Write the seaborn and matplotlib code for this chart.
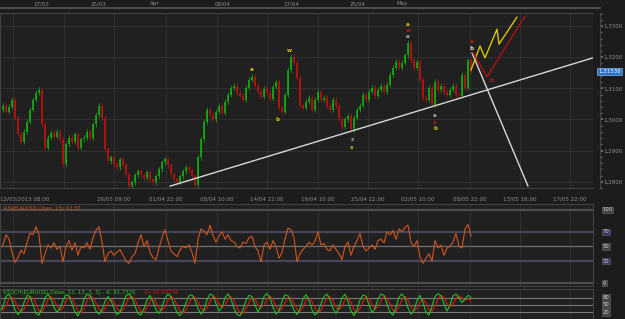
import numpy as np
import matplotlib
matplotlib.use("Agg")
import matplotlib.pyplot as plt
import seaborn as sns
from matplotlib.transforms import blended_transform_factory as btf

# ---------------- data ----------------
close = [1.3032,1.3044,1.3025,1.3041,1.3064,1.3006,1.2952,1.2929,1.2961,1.2993,
         1.3032,1.3064,1.3086,1.3096,1.2984,1.2910,1.2942,1.2958,1.2945,1.2961,
         1.2936,1.2856,1.2920,1.2942,1.2929,1.2952,1.2910,1.2936,1.2942,1.2961,
         1.2942,1.2984,1.3016,1.3044,1.3006,1.2904,1.2866,1.2878,1.2856,1.2846,
         1.2872,1.2853,1.2824,1.2786,1.2798,1.2821,1.2834,1.2821,1.2811,1.2830,
         1.2808,1.2798,1.2818,1.2840,1.2862,1.2872,1.2853,1.2824,1.2808,1.2798,
         1.2818,1.2834,1.2846,1.2837,1.2818,1.2789,1.2878,1.2936,1.2993,1.3032,
         1.3016,1.3000,1.3025,1.3044,1.3022,1.3057,1.3080,1.3102,1.3108,1.3086,
         1.3076,1.3064,1.3102,1.3127,1.3137,1.3108,1.3089,1.3073,1.3099,1.3086,
         1.3067,1.3105,1.3121,1.3038,1.3025,1.3080,1.3159,1.3201,1.3182,1.3134,
         1.3044,1.3038,1.3057,1.3070,1.3032,1.3064,1.3089,1.3064,1.3070,1.3044,
         1.3032,1.3064,1.3044,1.3000,1.2977,1.3000,1.3012,1.2968,1.3006,1.3032,
         1.3044,1.3080,1.3064,1.3089,1.3102,1.3076,1.3096,1.3108,1.3089,1.3112,
         1.3143,1.3166,1.3185,1.3166,1.3182,1.3207,1.3246,1.3191,1.3166,1.3185,
         1.3127,1.3070,1.3064,1.3102,1.3048,1.3121,1.3096,1.3108,1.3089,1.3080,
         1.3096,1.3108,1.3080,1.3076,1.3143,1.3102,1.3191,1.3154]

rsi = [48,52,66,60,42,28,35,45,40,55,
       68,66,77,66,27,40,52,48,55,46,
       50,29,50,58,45,55,38,50,48,55,
       46,62,72,77,56,29,40,44,38,42,
       46,38,30,27,36,40,55,66,50,58,
       42,35,32,48,62,73,58,44,40,36,
       45,50,48,52,42,27,60,74,71,66,
       79,65,56,64,70,60,66,58,56,50,
       48,56,54,62,64,50,44,29,52,56,
       46,58,50,34,42,60,75,73,62,29,
       40,46,50,56,52,57,70,52,54,46,
       44,52,46,40,32,50,56,38,50,58,
       68,50,44,48,52,46,58,60,55,70,
       66,72,60,74,70,76,79,55,50,58,
       36,27,34,40,30,58,48,52,38,48,
       50,56,68,50,48,74,80,63.5]

stoch_k = [20,45,85,95,70,30,10,25,60,90,
           85,50,15,8,40,80,95,75,40,20,
           35,70,92,88,55,20,5,30,75,95,
           90,60,25,12,30,65,85,70,35,10,
           20,55,88,96,80,45,15,8,35,70,
           90,65,30,15,40,78,95,85,50,18,
           6,25,60,88,92,70,35,12,30,72,
           95,90,55,25,40,80,96,75,35,10,
           5,30,68,90,85,50,20,45,85,97,
           80,40,12,25,65,92,88,60,28,10,
           35,75,93,70,30,8,20,55,85,95,
           72,35,15,40,80,94,65,25,6,30,
           70,92,86,50,18,35,75,95,90,55,
           20,8,40,82,96,78,38,12,28,68,
           90,60,22,8,45,85,97,88,55,25,
           50,88,95,80,60,75,90,82]

stoch_d = [28,30,48,75,82,65,38,22,32,58,
           82,80,55,25,22,45,72,85,70,45,
           28,38,65,85,78,52,25,18,38,68,
           88,80,58,32,22,36,60,75,62,35,
           22,30,55,80,86,72,45,22,20,40,
           65,80,62,36,28,42,70,86,76,50,
           24,16,30,58,80,82,64,38,26,38,
           66,85,80,56,40,50,72,84,68,40,
           16,15,34,62,80,75,50,38,50,76,
           86,72,44,26,34,60,82,80,58,32,
           24,40,68,80,64,36,20,28,54,78,
           84,68,40,30,45,72,80,60,32,20,
           36,64,82,76,50,34,42,68,86,78,
           55,28,22,44,72,85,70,42,26,36,
           62,74,58,30,25,46,76,90,80,56,
           42,54,78,88,78,70,75,70]

last_price = 1.31536
price_levels = [1.28, 1.29, 1.30, 1.31, 1.32, 1.33]
price_labels = ["1,2800", "1,2900", "1,3000", "1,3100", "1,3200", "1,3300"]

bottom_labels = ["", "", "26/03 09:00", "01/04 22:00", "08/04 10:00", "14/04 22:00",
                 "19/04 10:00", "25/04 22:00", "02/05 10:00", "08/05 22:00",
                 "13/05 16:00", "17/05 22:00"]
first_label = "12/03/2013 08:00"
top_labels = ["17/03", "25/03", "Apr", "09/04", "17/04", "25/04", "May"]

# wave projections (bar position, price)
yellow_x = [471, 480, 485, 497, 499, 517]
yellow_y = [1.3159, 1.3236, 1.3198, 1.3290, 1.3242, 1.3329]
red_x = [473, 487, 525]
red_y = [1.3214, 1.3137, 1.3332]
trend_x = [170, 593]
trend_y = [1.2786, 1.3198]
down_x = [472, 528]
down_y = [1.3214, 1.2786]

wave_labels = [("a", 252, 1.3159, "#d8c400"), ("b", 277, 1.3000, "#d8c400"),
               ("w", 289, 1.3223, "#d8c400"), ("z", 352, 1.2936, "#9a9a9a"),
               ("x", 352, 1.2910, "#d8c400"), ("a", 408, 1.3306, "#d8c400"),
               ("w", 408, 1.3287, "#c01818"), ("a", 408, 1.3265, "#b0b0b0"),
               ("a", 435, 1.3012, "#b0b0b0"), ("x", 435, 1.2990, "#c01818"),
               ("b", 435, 1.2971, "#d8c400"), ("a", 472, 1.3249, "#c01818"),
               ("b", 472, 1.3227, "#e0e0e0"), ("b", 491, 1.3124, "#c01818")]

rsi_levels = [100, 70, 50, 30, 0]
stoch_levels = [80, 50, 20]

# ---------------- layout ----------------
sns.set_theme(style="dark")
plt.rcParams["font.family"] = ["DejaVu Sans"]

W, H = 625, 319
BG = "#1c1c1c"
PANEL = "#202020"
GRID = "#333333"
SPINE = "#424242"
TXT = "#8e8e8e"
FS = 4.0

fig = plt.figure(figsize=(6.25, 3.19), dpi=100, facecolor=BG)


def axpx(x0, y0, x1, y1):
    return fig.add_axes([x0 / W, 1 - y1 / H, (x1 - x0) / W, (y1 - y0) / H])


grid_x = [13, 64, 114, 166, 217, 267, 318, 368, 418, 470, 520, 570]
top_x = [41, 99, 155, 223, 291, 358, 402]
XMAX = 593

ax_top = axpx(0, 0, 600, 8)
ax = axpx(0, 13, XMAX, 188)
ax_rsi = axpx(0, 204, XMAX, 286)
ax_st = axpx(0, 289, XMAX, 319)

for a in (ax, ax_rsi, ax_st):
    a.set_facecolor(PANEL)
    a.set_xlim(0, XMAX)
    for s in a.spines.values():
        s.set_color(SPINE)
        s.set_linewidth(0.8)
    a.set_xticks(grid_x)
    a.grid(True, color=GRID, lw=0.6)
    a.tick_params(axis="both", colors=TXT, labelsize=FS, length=0)

# top ruler
ax_top.set_facecolor(BG)
ax_top.set_xlim(0, 600)
ax_top.set_ylim(0, 1)
for k, s in ax_top.spines.items():
    s.set_visible(k == "bottom")
ax_top.spines["bottom"].set_color("#555555")
ax_top.set_yticks([])
ax_top.set_xticks(top_x)
ax_top.set_xticks(np.arange(3, 600, 8.4), minor=True)
ax_top.tick_params(axis="x", which="major", direction="out", length=6, color="#777777",
                   labelbottom=False)
ax_top.tick_params(axis="x", which="minor", direction="out", length=2, color="#666666")
for xp, lab in zip(top_x, top_labels):
    ax_top.text(xp, 0.55, lab, ha="center", va="center", fontsize=FS, color=TXT)

# ---------------- main price panel ----------------
xs = np.arange(len(close)) * 3
opens = [close[0] + 0.0004] + close[:-1]
up = np.array(close) >= np.array(opens)
lo = np.minimum(opens, close)
hi = np.maximum(opens, close)
cols = np.where(up, "#10b010", "#c01010")
ax.vlines(xs, lo - 0.0008, hi + 0.0008, colors=cols, lw=0.5)
ax.vlines(xs, lo, hi, colors=cols, lw=1.2)

sns.lineplot(x=trend_x, y=trend_y, ax=ax, color="#d8d8d8", lw=1.0, sort=False, estimator=None)
sns.lineplot(x=down_x, y=down_y, ax=ax, color="#d8d8d8", lw=1.0, sort=False, estimator=None)
sns.lineplot(x=yellow_x, y=yellow_y, ax=ax, color="#d8c400", lw=1.0, sort=False, estimator=None)
sns.lineplot(x=red_x, y=red_y, ax=ax, color="#b01212", lw=1.0, sort=False, estimator=None)

for t, xp, yp, c in wave_labels:
    ax.text(xp, yp, t, color=c, fontsize=4, ha="center", va="center", fontweight="bold")

ax.set_ylim(1.2782, 1.3342)
ax.set_yticks(price_levels)
ax.set_yticklabels(price_labels)
ax.yaxis.tick_right()
ax.spines["right"].set_position(("outward", 5))
ax.set_yticks(np.arange(1.278, 1.334, 0.002), minor=True)
ax.tick_params(axis="y", which="major", length=2, direction="out", color="#777777",
               labelsize=FS, colors=TXT, pad=0.8)
ax.tick_params(axis="y", which="minor", length=1.5, direction="out", color="#666666")
ax.axvline(XMAX, color=SPINE, lw=0.8)
ax.set_xticklabels(bottom_labels)
ax.set_xticks(np.arange(3, XMAX, 10.14), minor=True)
ax.tick_params(axis="x", which="major", length=3, direction="out", color="#666666", pad=3,
               labelsize=FS, colors=TXT)
ax.tick_params(axis="x", which="minor", length=2, direction="out", color="#555555")
ax.text(0.0, -0.063, first_label, transform=ax.transAxes, ha="left", va="center",
        fontsize=FS, color=TXT)
ax.set_xlabel("")
ax.set_ylabel("")
ax.text(1.0085, last_price, "1,31536", transform=btf(ax.transAxes, ax.transData),
        ha="left", va="center", fontsize=FS, color="white",
        bbox=dict(boxstyle="square,pad=0.15", facecolor="#2a72c8", edgecolor="#7fb0e8", lw=0.5))

# ---------------- RSI panel ----------------
ax_rsi.set_ylim(-4, 108)
for lv in rsi_levels:
    if lv in (100, 0):
        ax_rsi.axhline(lv, color="#4c4c4c", lw=1.6)
    elif lv == 50:
        ax_rsi.axhline(lv, color="#6e6e6e", lw=0.9)
    else:
        ax_rsi.axhline(lv, color="#464658", lw=1.6)
sns.lineplot(x=xs, y=rsi, ax=ax_rsi, color="#d2541e", lw=0.8, estimator=None)
ax_rsi.set_yticks([])
ax_rsi.set_xticklabels([])
ax_rsi.set_xlabel("")
ax_rsi.set_ylabel("")
ax_rsi.text(0.006, 0.97, "RSI(EUR/USD.Close, 13): 63,50", transform=ax_rsi.transAxes,
            ha="left", va="top", fontsize=3.6, color="#d2541e")
tr = btf(ax_rsi.transAxes, ax_rsi.transData)
for lv in rsi_levels:
    blue = lv in (70, 30)
    ax_rsi.text(1.016, lv, str(lv), transform=tr, ha="left", va="center", fontsize=3.8,
                color="#c8c8e8" if blue else "#d0d0d0",
                bbox=dict(boxstyle="square,pad=0.15", facecolor="#3a3a64" if blue else "#444444",
                          edgecolor="#666666", lw=0.4))

# ---------------- Stochastic panel ----------------
ax_st.set_ylim(-8, 116)
for lv in stoch_levels:
    ax_st.axhline(lv, color="#7a7a7a", lw=0.8)
sns.lineplot(x=xs, y=stoch_d, ax=ax_st, color="#d01818", lw=0.9, estimator=None)
sns.lineplot(x=xs, y=stoch_k, ax=ax_st, color="#22c022", lw=0.8, estimator=None)
ax_st.set_yticks([])
ax_st.set_xticklabels([])
ax_st.set_xlabel("")
ax_st.set_ylabel("")
ax_st.text(0.005, 0.97, "STOCH(EUR/USD.Close, 13, 13, 3, 3) - K: 81,7735",
           transform=ax_st.transAxes, ha="left", va="top", fontsize=3.9, color="#30c030")
ax_st.text(0.245, 0.97, "D: 69,64238", transform=ax_st.transAxes, ha="left", va="top",
           fontsize=3.9, color="#d01818")
tr2 = btf(ax_st.transAxes, ax_st.transData)
for lv in stoch_levels:
    ax_st.text(1.016, lv, str(lv), transform=tr2, ha="left", va="center", fontsize=3.8,
               color="#d0d0d0",
               bbox=dict(boxstyle="square,pad=0.15", facecolor="#444444", edgecolor="#666666", lw=0.4))

fig.savefig("out.png", dpi=100, facecolor=BG)
